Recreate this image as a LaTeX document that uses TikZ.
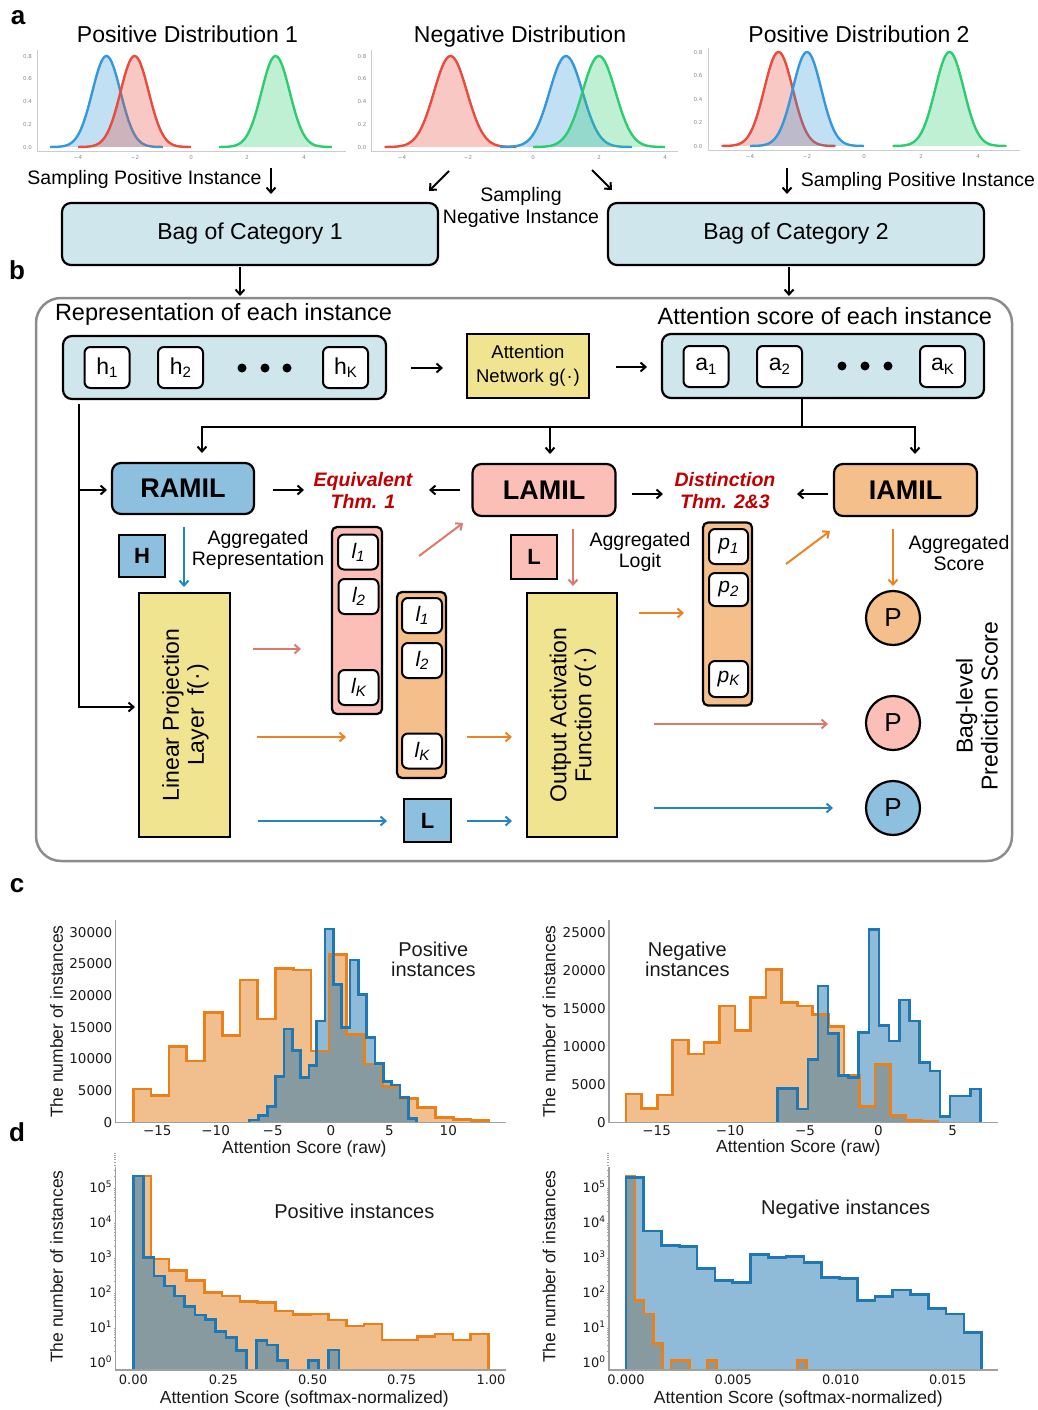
\documentclass[tikz,border=0pt]{standalone}
\usepackage{fontspec}
\setmainfont{Liberation Sans}
\newfontfamily\dejavu{DejaVu Sans}
\usetikzlibrary{arrows.meta,calc}

\definecolor{bagblue}{HTML}{CFE6ED}
\definecolor{ramilc}{HTML}{8DBFDE}
\definecolor{lamilc}{HTML}{FBBFB8}
\definecolor{iamilc}{HTML}{F4BF8B}
\definecolor{yelc}{HTML}{F1E490}
\definecolor{framegray}{HTML}{8C8C8C}
\definecolor{thmred}{HTML}{C00000}
\definecolor{apink}{HTML}{DB7A6C}
\definecolor{aorange}{HTML}{EC8322}
\definecolor{ablue}{HTML}{2384C4}
\definecolor{cblue}{HTML}{3498DB}
\definecolor{cred}{HTML}{E74C3C}
\definecolor{cgreen}{HTML}{2ECC71}
\definecolor{hbl}{HTML}{1F77B4}
\definecolor{hor}{HTML}{E8801C}
\definecolor{horfill}{HTML}{F1BE8D}
\definecolor{axgray}{HTML}{A0A0A0}
\definecolor{tickgray}{HTML}{8A8A8A}
\definecolor{lightax}{HTML}{CCCCCC}
\definecolor{txtdark}{HTML}{1A1A1A}

\newcommand{\fsPanel}{\fontsize{26}{30}\selectfont\bfseries}
\newcommand{\fsTitle}{\fontsize{23}{27}\selectfont}
\newcommand{\fsHead}{\fontsize{23.5}{27}\selectfont}
\newcommand{\fsLab}{\fontsize{19.5}{20.5}\selectfont}
\newcommand{\fsSamp}{\fontsize{19.5}{22}\selectfont}
\newcommand{\fsSmall}{\fontsize{18.5}{24}\selectfont}
\newcommand{\fsBig}{\fontsize{27}{30}\selectfont\bfseries}
\newcommand{\fsThm}{\fontsize{19.5}{22}\selectfont\bfseries\itshape}
\newcommand{\fsRot}{\fontsize{23}{25}\selectfont}
\newcommand{\fsCell}{\fontsize{23}{25}\selectfont}
\newcommand{\fsIt}{\fontsize{21}{23}\selectfont\itshape}
\newcommand{\fsSq}{\fontsize{22}{24}\selectfont\bfseries}
\newcommand{\fsP}{\fontsize{26}{28}\selectfont}
\newcommand{\fsTiny}{\dejavu\fontsize{5.5}{6}\selectfont}
\newcommand{\fsHtick}{\dejavu\fontsize{13.5}{15}\selectfont}
\newcommand{\fsDtick}{\dejavu\fontsize{13}{15}\selectfont}
\newcommand{\fsHax}{\fontsize{17.5}{20}\selectfont}
\newcommand{\fsAnn}{\fontsize{20}{20}\selectfont}
\newcommand{\sbx}[1]{\raisebox{-0.28ex}{\fontsize{15}{15}\selectfont #1}}
\newcommand{\tsup}[1]{10\raisebox{0.8ex}{\fontsize{9}{9}\selectfont #1}}
\newcommand{\gcurve}[7]{\draw[#7, line width=2.4pt, fill=#7, fill opacity=0.3] plot[domain=#6, samples=80, smooth] ({#1+#2*\x},{#3-#4*exp(-2*(\x-(#5))^2)});}

% histogram step paths (in 3x zoom pixel units)
\newcommand{\hcLo}{(400,765) |- (453,657) |- (507,677) |- (560,530) |- (613,573) |- (667,428) |- (720,497) |- (773,330) |- (827,447) |- (880,295) |- (933,300) |- (987,543) |- (1040,253) |- (1093,493) |- (1147,582) |- (1200,650) |- (1253,685) |- (1307,712) |- (1360,743) |- (1413,748) |- (1467,752) -- (1467,765)}
\newcommand{\hcLb}{(748,765) |- (775,750) |- (802,737) |- (827,710) |- (852,620) |- (877,477) |- (902,542) |- (927,622) |- (950,587) |- (975,453) |- (1000,177) |- (1025,343) |- (1050,473) |- (1075,270) |- (1100,373) |- (1125,503) |- (1150,580) |- (1175,635) |- (1200,645) |- (1225,683) |- (1250,745) -- (1250,765)}
\newcommand{\hcRo}{(318,765) |- (365,672) |- (412,715) |- (458,675) |- (505,510) |- (552,552) |- (598,517) |- (645,408) |- (692,482) |- (738,382) |- (785,298) |- (832,398) |- (878,408) |- (925,433) |- (972,470) |- (1018,615) |- (1065,710) |- (1112,583) |- (1158,737) |- (1205,752) |- (1252,755) -- (1252,765)}
\newcommand{\hcRb}{(772,765) |- (802.5,655) |- (833,655) |- (863.5,717) |- (894,568) |- (924.5,348) |- (955,490) |- (985.5,617) |- (1016,622) |- (1046.5,487) |- (1077,178) |- (1107.5,467) |- (1138,513) |- (1168.5,390) |- (1199,453) |- (1229.5,578) |- (1260,603) |- (1290.5,740) |- (1321,678) |- (1351.5,678) |- (1382,657) -- (1382,765)}
\newcommand{\hdLo}{(400,668) |- (453,78) |- (507,327) |- (560,362) |- (613,392) |- (666,427) |- (720,438) |- (773,455) |- (826,458) |- (879,483) |- (933,493) |- (986,492) |- (1039,510) |- (1092,528) |- (1146,522) |- (1199,570) |- (1252,570) |- (1305,560) |- (1359,552) |- (1412,570) |- (1465,552) -- (1465,668)}
\newcommand{\hdLb}{(400,668) |- (431,78) |- (462,322) |- (493,378) |- (523,408) |- (554,438) |- (585,470) |- (616,495) |- (647,508) |- (678,545) |- (709,562) |- (739,602) |- (770,668) |- (801,572) |- (832,585) |- (863,632) |- (894,668) |- (925,668) |- (955,632) |- (986,668) |- (1017,600) -- (1017,668)}
\newcommand{\hdRo}{(318,668) |- (345,78) |- (372,452) |- (400,492) |- (427,580) |- (453,668) |- (480,632) |- (508,632) |- (535,668) |- (562,668) |- (590,632) |- (617,668) |- (643,668) |- (670,668) |- (697,668) |- (724,668) |- (751,668) |- (778,668) |- (805,668) |- (832,668) |- (860,632) -- (860,668)}
\newcommand{\hdRb}{(318,668) |- (371,82) |- (425,243) |- (478,287) |- (531,290) |- (585,355) |- (638,392) |- (691,397) |- (745,313) |- (798,322) |- (852,320) |- (905,337) |- (958,382) |- (1012,385) |- (1065,452) |- (1118,440) |- (1172,420) |- (1225,433) |- (1278,475) |- (1332,492) |- (1385,548) -- (1385,668)}

\begin{document}
\begin{tikzpicture}[x=1pt,y=-1pt,
  every node/.style={inner sep=0pt,outer sep=0pt},
  barr/.style={-{Straight Barb[length=5pt,width=9pt]}, line width=2pt},
  carr/.style={barr, draw=#1},
  bagbox/.style={draw, line width=2.2pt, rounded corners=9pt, fill=bagblue},
  cell/.style={draw, line width=2pt, rounded corners=6pt, fill=white, font=\fsCell, minimum width=45pt, minimum height=41pt},
  icell/.style={draw, line width=2pt, rounded corners=6pt, fill=white, font=\fsIt, minimum width=40pt, minimum height=35pt},
  ybox/.style={draw, line width=2.2pt, fill=yelc},
  mil/.style={draw, line width=2.2pt, rounded corners=9pt, font=\fsBig, minimum width=142pt, minimum height=52pt},
  sq/.style={draw, line width=2.2pt, font=\fsSq, minimum width=46pt, minimum height=43pt},
  cont/.style={draw, line width=2.2pt, rounded corners=5pt},
  pc/.style={circle, draw, line width=2.2pt, minimum size=54pt, font=\fsP},
  tk/.style={font=\fsTiny, text=tickgray},
  htk/.style={font=\fsHtick, text=txtdark},
  dtk/.style={font=\fsDtick, text=txtdark},
  hax/.style={font=\fsHax, text=txtdark},
  hann/.style={font=\fsAnn, text=txtdark, align=center},
  histline/.style={line width=2.6pt, line join=miter},
  spine/.style={axgray, line width=1.2pt}
]
\useasboundingbox (0,0) rectangle (1038,1410);

% ================= panel a =================
\node[font=\fsPanel] (pa) at (18,18) {a};
\node[font=\fsTitle, anchor=base] (ta1) at (187.5,43) {Positive Distribution 1};
\node[font=\fsTitle, anchor=base] (ta2) at (520,43) {Negative Distribution};
\node[font=\fsTitle, anchor=base] (ta3) at (859,43) {Positive Distribution 2};

\draw[lightax, line width=1pt] (37,50) -- (37,151) -- (346,151);
\draw[lightax, line width=1pt] (371,50) -- (371,151) -- (678,151);
\draw[lightax, line width=1pt] (708,48) -- (708,150) -- (1020,150);

\gcurve{191}{28.2}{147}{91}{-3}{-5:-1}{cblue}
\gcurve{191}{28.2}{147}{91}{-2}{-4:0}{cred}
\gcurve{191}{28.2}{147}{91}{3}{1:5}{cgreen}
\gcurve{533}{33}{147}{91}{-2.5}{-4.5:-0.5}{cred}
\gcurve{533}{33}{147}{91}{1}{-1:3}{cblue}
\gcurve{533}{33}{147}{91}{2}{0:4}{cgreen}
\gcurve{864}{28.5}{146}{94}{-3}{-5:-1}{cred}
\gcurve{864}{28.5}{146}{94}{-2}{-4:0}{cblue}
\gcurve{864}{28.5}{146}{94}{3}{1:5}{cgreen}

\foreach \v/\yy [count=\i] in {0.0/147,0.2/124.25,0.4/101.5,0.6/78.75,0.8/56}{
  \node[tk] (aay\i) at (27.5,\yy) {\v};
  \node[tk] (aby\i) at (362,\yy) {\v};}
\foreach \v/\yy [count=\i] in {0.0/146,0.2/122.5,0.4/99,0.6/75.5,0.8/52}{
  \node[tk] (acy\i) at (698,\yy) {\v};}
\foreach \v/\xx [count=\i] in {−4/78,−2/135,0/191,2/247,4/304}{\node[tk] (aax\i) at (\xx,157) {\v};}
\foreach \v/\xx [count=\i] in {−4/402,−2/468,0/533,2/599,4/665}{\node[tk] (abx\i) at (\xx,157) {\v};}
\foreach \v/\xx [count=\i] in {−4/750,−2/807,0/864,2/921,4/978}{\node[tk] (acx\i) at (\xx,156) {\v};}

\node[font=\fsSamp] (sp1) at (144.5,179) {Sampling Positive Instance};
\node[font=\fsSamp] (sp2) at (918,181) {Sampling Positive Instance};
\node[font=\fsSamp, align=center] (sn) at (521,207) {Sampling\\Negative Instance};

\coordinate (s1a) at (271,168); \coordinate (s1b) at (271,194);
\coordinate (s2a) at (449,171); \coordinate (s2b) at (429,191);
\coordinate (s3a) at (592,170); \coordinate (s3b) at (612,190);
\coordinate (s4a) at (787,168); \coordinate (s4b) at (787,194);
\draw[barr] (s1a) -- (s1b);
\draw[barr] (s2a) -- (s2b);
\draw[barr] (s3a) -- (s3b);
\draw[barr] (s4a) -- (s4b);

\node[bagbox, minimum width=376pt, minimum height=62pt, font=\fsTitle] (bag1) at (250,234) {Bag of Category 1};
\node[bagbox, minimum width=376pt, minimum height=62pt, font=\fsTitle] (bag2) at (796,234) {Bag of Category 2};

% ================= panel b =================
\node[font=\fsPanel] (pb) at (17,270) {b};
\draw[framegray, line width=2.5pt, rounded corners=25pt] (36,298) rectangle (1012,861);

\coordinate (b1a) at (240,267); \coordinate (b1b) at (240,296);
\coordinate (b2a) at (789,267); \coordinate (b2b) at (789,296);
\draw[barr] (b1a) -- (b1b);
\draw[barr] (b2a) -- (b2b);

\node[font=\fsHead, anchor=west] (rep) at (55,314) {Representation of each instance};
\node[font=\fsHead, anchor=east] (att) at (992,316) {Attention score of each instance};

\node[bagbox, minimum width=323pt, minimum height=63pt] (hbox) at (224.5,367.5) {};
\node[cell] (h1) at (107,367.5) {h\sbx{1}};
\node[cell] (h2) at (180.5,367.5) {h\sbx{2}};
\node[cell] (hK) at (345.5,367.5) {h\sbx{K}};
\foreach \xx in {242,265,287}{\fill (\xx,368) circle[radius=4.5pt];}

\node[ybox, minimum width=122pt, minimum height=64pt, font=\fsSmall, align=center] (attn) at (528,366) {Attention\\Network g(\kern1pt·\kern1pt)};

\node[bagbox, minimum width=322pt, minimum height=64pt] (abox) at (823,366) {};
\node[cell] (a1) at (706,366.5) {a\sbx{1}};
\node[cell] (a2) at (779.5,366.5) {a\sbx{2}};
\node[cell] (aK) at (942.5,366.5) {a\sbx{K}};
\foreach \xx in {842,865,888}{\fill (\xx,366) circle[radius=4.5pt];}

\coordinate (c1a) at (411,368); \coordinate (c1b) at (443,368);
\coordinate (c2a) at (616,367); \coordinate (c2b) at (647,367);
\draw[barr] (c1a) -- (c1b);
\draw[barr] (c2a) -- (c2b);

% MIL boxes
\node[mil, fill=ramilc, minimum height=51pt] (ramil) at (183,488.5) {RAMIL};
\node[mil, fill=lamilc, minimum width=143pt] (lamil) at (544,490) {LAMIL};
\node[mil, fill=iamilc, minimum width=143pt] (iamil) at (905.5,490) {IAMIL};

\coordinate (tee) at (802,427);
\coordinate (teeL) at (202,427);
\coordinate (teeM) at (550,427);
\coordinate (teeR) at (915,427);
\draw[line width=2pt] (abox.south -| tee) -- (tee);
\draw[barr, shorten >=10pt] (tee) -- (teeL) -- (teeL |- ramil.north);
\draw[barr, shorten >=10pt] (tee) -- (teeR) -- (teeR |- iamil.north);
\draw[barr, shorten >=10pt] (teeM) -- (teeM |- lamil.north);

\node[font=\fsThm, text=thmred, align=center] (eqv) at (363,490) {Equivalent\\Thm. 1};
\node[font=\fsThm, text=thmred, align=center] (dst) at (725,491) {Distinction\\Thm. 2\&3};

\coordinate (e1a) at (273,490); \coordinate (e1b) at (304,490);
\coordinate (e2a) at (460,490); \coordinate (e2b) at (429,490);
\coordinate (d1a) at (632,494); \coordinate (d1b) at (663,494);
\coordinate (d2a) at (828,494); \coordinate (d2b) at (797,494);
\draw[barr] (e1a) -- (e1b);
\draw[barr] (e2a) -- (e2b);
\draw[barr] (d1a) -- (d1b);
\draw[barr] (d2a) -- (d2b);

% left feed line
\node[ybox, minimum width=91pt, minimum height=244pt] (lin) at (184.5,715) {};
\node[font=\fsRot, rotate=90, align=center] (lintxt) at (185.5,715) {Linear Projection\\Layer~ f(\kern1pt·\kern1pt)};
\coordinate (hl0) at (79,404);
\coordinate (hl1) at (79,490);
\coordinate (hl2) at (79,707);
\draw[barr, shorten >=4pt] (hl0) -- (hl2) -- (hl2 -| lin.west);
\draw[barr, shorten >=5pt] (hl1) -- (hl1 -| ramil.west);

% aggregated stuff
\node[sq, fill=ramilc, minimum height=42pt] (Hsq) at (142,556) {H};
\node[font=\fsLab, align=center] (agr) at (258,550) {Aggregated\\Representation};
\node[sq, fill=lamilc, minimum height=44pt] (Lp) at (534,557) {L};
\node[font=\fsLab, align=center] (agl) at (640,552) {Aggregated\\Logit};
\node[font=\fsLab, align=center] (ags) at (959,553) {Aggregated\\Score};

\coordinate (v1a) at (184,527); \coordinate (v1b) at (184,587);
\coordinate (v2a) at (573,529); \coordinate (v2b) at (573,586);
\coordinate (v3a) at (893,529); \coordinate (v3b) at (893,586);
\draw[carr=ablue] (v1a) -- (v1b);
\draw[carr=apink] (v2a) -- (v2b);
\draw[carr=aorange] (v3a) -- (v3b);

% pink logits vector
\node[cont, fill=lamilc, minimum width=50pt, minimum height=187pt] (pkc) at (357,620.5) {};
\node[icell] (pl1) at (358,552) {l\sbx{1}};
\node[icell] (pl2) at (358.5,596.5) {l\sbx{2}};
\node[icell] (plK) at (358.5,687.5) {l\sbx{K}};

% orange logits vector
\node[cont, fill=iamilc, minimum width=49pt, minimum height=186pt] (ogc) at (421.5,685) {};
\node[icell] (ol1) at (422,615.5) {l\sbx{1}};
\node[icell] (ol2) at (422,660.5) {l\sbx{2}};
\node[icell] (olK) at (422,751) {l\sbx{K}};

\node[sq, fill=ramilc, minimum width=47pt] (Lb) at (427.5,820.5) {L};

\node[ybox, minimum width=90pt, minimum height=244pt] (outa) at (572,715) {};
\node[font=\fsRot, rotate=90, align=center] (outtxt) at (573,715) {Output Activation\\Function \textit{σ}(\kern1pt·\kern1pt)};

% p vector
\node[cont, fill=iamilc, minimum width=49pt, minimum height=183pt] (pvc) at (727.5,614) {};
\node[icell, minimum width=39pt] (p1) at (728.5,546.5) {p\sbx{1}};
\node[icell, minimum width=39pt, minimum height=33pt] (p2) at (728.5,589.5) {p\sbx{2}};
\node[icell, minimum width=39pt, minimum height=36pt] (pK) at (728.5,679) {p\sbx{K}};

% P circles
\node[pc, fill=iamilc] (Po) at (893,618) {P};
\node[pc, fill=lamilc] (Pp) at (893,723) {P};
\node[pc, fill=ramilc] (Pb) at (893,808) {P};
\node[font=\fsRot, rotate=90, align=center] (bls) at (977,706) {Bag-level\\Prediction Score};

% coloured arrows
\coordinate (g1a) at (419,556); \coordinate (g1b) at (463,523);
\coordinate (g2a) at (786,564); \coordinate (g2b) at (830,531);
\coordinate (g3a) at (253,649); \coordinate (g3b) at (301,649);
\coordinate (g4a) at (257,737); \coordinate (g4b) at (346,737);
\coordinate (g5a) at (258,821); \coordinate (g5b) at (387,821);
\coordinate (g6a) at (467,737); \coordinate (g6b) at (512,737);
\coordinate (g7a) at (467,821); \coordinate (g7b) at (512,821);
\coordinate (g8a) at (639,613); \coordinate (g8b) at (684,613);
\coordinate (g9a) at (654,724); \coordinate (g9b) at (828,724);
\coordinate (g10a) at (654,808); \coordinate (g10b) at (833,808);
\draw[carr=apink] (g1a) -- (g1b);
\draw[carr=aorange] (g2a) -- (g2b);
\draw[carr=apink] (g3a) -- (g3b);
\draw[carr=aorange] (g4a) -- (g4b);
\draw[carr=ablue] (g5a) -- (g5b);
\draw[carr=aorange] (g6a) -- (g6b);
\draw[carr=ablue] (g7a) -- (g7b);
\draw[carr=aorange] (g8a) -- (g8b);
\draw[carr=apink] (g9a) -- (g9b);
\draw[carr=ablue] (g10a) -- (g10b);

% ================= panel c =================
\node[font=\fsPanel] (pcl) at (17,886) {c};
\begin{scope}[shift={(0,870)}, scale=1/3]
  \begin{scope}
    \clip (347,0) rectangle (1517,757);
    \fill[horfill] \hcLo;
    \fill[hbl, fill opacity=0.5] \hcLb;
    \draw[hor, histline] \hcLo;
    \draw[hbl, histline] \hcLb;
  \end{scope}
  \draw[spine] (347,150) -- (347,757) -- (1517,757);
  \foreach \v/\yy [count=\i] in {0/757,5000/662,10000/567,15000/472,20000/377,25000/282,30000/187}{
    \node[htk, anchor=east] (cly\i) at (337,\yy) {\v};}
  \foreach \v/\xx [count=\i] in {−15/472,−10/647,−5/818,0/993,5/1168,10/1345}{
    \node[htk] (clx\i) at (\xx,783) {\v};}
  \node[hax] (clxl) at (913,836) {Attention Score (raw)};
  \node[hax, rotate=90] (clyl) at (170,455) {The number of instances};
  \node[hann] (clan) at (1300,267) {Positive\\instances};
\end{scope}

\begin{scope}[shift={(520,870)}, scale=1/3]
  \begin{scope}
    \clip (267,0) rectangle (1435,757);
    \fill[horfill] \hcRo;
    \fill[hbl, fill opacity=0.5] \hcRb;
    \draw[hor, histline] \hcRo;
    \draw[hbl, histline] \hcRb;
  \end{scope}
  \draw[spine] (267,150) -- (267,757) -- (1435,757);
  \foreach \v/\yy [count=\i] in {0/757,5000/643,10000/530,15000/416,20000/302,25000/188}{
    \node[htk, anchor=east] (cry\i) at (257,\yy) {\v};}
  \foreach \v/\xx [count=\i] in {−15/410,−10/630,−5/855,0/1075,5/1298}{
    \node[htk] (crx\i) at (\xx,783) {\v};}
  \node[hax] (crxl) at (835,834) {Attention Score (raw)};
  \node[hax, rotate=90] (cryl) at (87,455) {The number of instances};
  \node[hann] (cran) at (502,267) {Negative\\instances};
\end{scope}

% ================= panel d =================
\node[font=\fsPanel] (pdl) at (17,1132) {d};
\begin{scope}[shift={(0,1150)}, scale=1/3]
  \begin{scope}
    \clip (347,0) rectangle (1517,660);
    \fill[horfill] \hdLo;
    \fill[hbl, fill opacity=0.5] \hdLb;
    \draw[hor, histline] \hdLo;
    \draw[hbl, histline] \hdLb;
  \end{scope}
  \draw[spine] (347,50) -- (347,660) -- (1517,660);
  \foreach \dd in {0,105,210,315,420,525}{
    \foreach \m in {0.301,0.477,0.602,0.699,0.778,0.845,0.903,0.954}{
      \draw[axgray, line width=0.6pt] (347,635-\dd-105*\m) -- (341,635-\dd-105*\m);}}
  \foreach \v/\yy [count=\i] in {0/635,1/530,2/425,3/320,4/215,5/110}{
    \node[dtk, anchor=east] (dly\i) at (335,\yy) {\tsup{\v}};}
  \foreach \v/\xx [count=\i] in {0.00/400,0.25/670,0.50/938,0.75/1205,1.00/1473}{
    \node[dtk] (dlx\i) at (\xx,690) {\v};}
  \node[hax] (dlxl) at (913,747) {Attention Score (softmax-normalized)};
  \node[hax, rotate=90] (dlyl) at (170,350) {The number of instances};
  \node[hann] (dlan) at (1063,185) {Positive instances};
\end{scope}

\begin{scope}[shift={(520,1150)}, scale=1/3]
  \begin{scope}
    \clip (267,0) rectangle (1435,660);
    \fill[horfill] \hdRo;
    \fill[hbl, fill opacity=0.5] \hdRb;
    \draw[hor, histline] \hdRo;
    \draw[hbl, histline] \hdRb;
  \end{scope}
  \draw[spine] (267,50) -- (267,660) -- (1435,660);
  \foreach \dd in {0,105,210,315,420,525}{
    \foreach \m in {0.301,0.477,0.602,0.699,0.778,0.845,0.903,0.954}{
      \draw[axgray, line width=0.6pt] (267,635-\dd-105*\m) -- (261,635-\dd-105*\m);}}
  \foreach \v/\yy [count=\i] in {0/635,1/530,2/425,3/320,4/215,5/110}{
    \node[dtk, anchor=east] (dry\i) at (255,\yy) {\tsup{\v}};}
  \foreach \v/\xx [count=\i] in {0.000/318,0.005/640,0.010/962,0.015/1283}{
    \node[dtk] (drx\i) at (\xx,690) {\v};}
  \node[hax] (drxl) at (835,747) {Attention Score (softmax-normalized)};
  \node[hax, rotate=90] (dryl) at (87,350) {The number of instances};
  \node[hann] (dran) at (977,177) {Negative instances};
\end{scope}

\end{tikzpicture}
\end{document}
